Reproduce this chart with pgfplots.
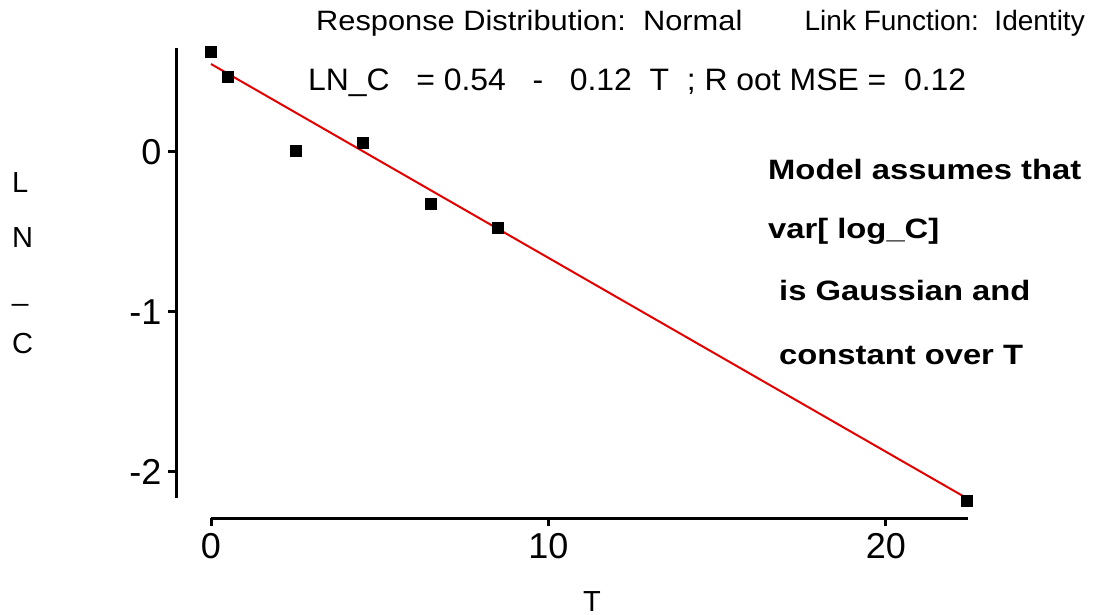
\documentclass[border=0pt]{standalone}
\usepackage{graphicx}
\usepackage{pgfplots}
\pgfplotsset{compat=1.18}
\usepackage{fontspec}
\setmainfont{Liberation Sans}
\begin{document}
\begin{tikzpicture}
\useasboundingbox (0pt,0pt) rectangle (1098pt,-615pt);
\begin{axis}[
  at={(211pt,-498pt)}, anchor=south west,
  scale only axis, width=757pt, height=450pt,
  xmin=0, xmax=22.43, ymin=-2.164, ymax=0.649,
  axis lines*=left,
  axis x line shift=20pt, axis y line shift=35pt,
  axis line style={line width=3pt},
  every outer x axis line/.append style={line width=3pt},
  every outer y axis line/.append style={line width=3pt},
  tick align=outside, major tick length=8pt,
  tick style={line width=3pt, black},
  xtick={0,10,20}, xticklabels={0,10,20},
  ytick={-2,-1,0}, yticklabels={-2,-1,0},
  tick label style={font=\fontsize{36}{36}\selectfont},
  xticklabel style={yshift=-4pt},
  yticklabel style={xshift=-3pt},
  clip=false,
]
\addplot[red!90!black, line width=2pt] coordinates {(0,0.549) (22.4,-2.166)};
\addplot[only marks, mark=square*, mark size=5.5pt, black] coordinates {
  (0,0.623) (0.5,0.469) (2.5,0.007) (4.5,0.059) (6.5,-0.326) (8.5,-0.476) (22.4,-2.178)};
\end{axis}
% header
\begin{scope}[every node/.style={inner sep=0, font=\fontsize{28}{28}\selectfont}]
\node[anchor=base west] at (316pt,-31pt) {\scalebox{1.1}[1]{Response Distribution:\ \ Normal}};
\node[anchor=base east] at (1085pt,-31pt) {Link Function:\ \ Identity};
\end{scope}
% fitted equation
\node[anchor=base west, inner sep=0, font=\fontsize{31}{31}\selectfont] at (308pt,-91pt)
  {\resizebox{658pt}{\height}{LN\_C\ \ \ = 0.54\ \ \ -\ \ \ 0.12\ \ T\ \ ; R oot MSE =\ \ 0.12}};
% note
\begin{scope}[every node/.style={anchor=base west, inner sep=0, font=\bfseries\fontsize{28}{28}\selectfont}]
\node at (768pt,-179pt) {\scalebox{1.17}[1]{Model assumes that}};
\node at (768pt,-238pt) {\scalebox{1.17}[1]{var[ log\_C]}};
\node at (779pt,-300pt) {\scalebox{1.17}[1]{is Gaussian and}};
\node at (779pt,-364pt) {\scalebox{1.17}[1]{constant over T}};
\end{scope}
% stacked y label
\begin{scope}[every node/.style={anchor=base west, inner sep=0, font=\fontsize{29}{29}\selectfont}]
\node at (12pt,-193pt) {L};
\node at (12pt,-247pt) {N};
\node at (12pt,-300pt) {\_};
\node at (12pt,-353pt) {C};
\end{scope}
\node[anchor=base, inner sep=0, font=\fontsize{29}{29}\selectfont] at (592pt,-611pt) {T};
\end{tikzpicture}
\end{document}
